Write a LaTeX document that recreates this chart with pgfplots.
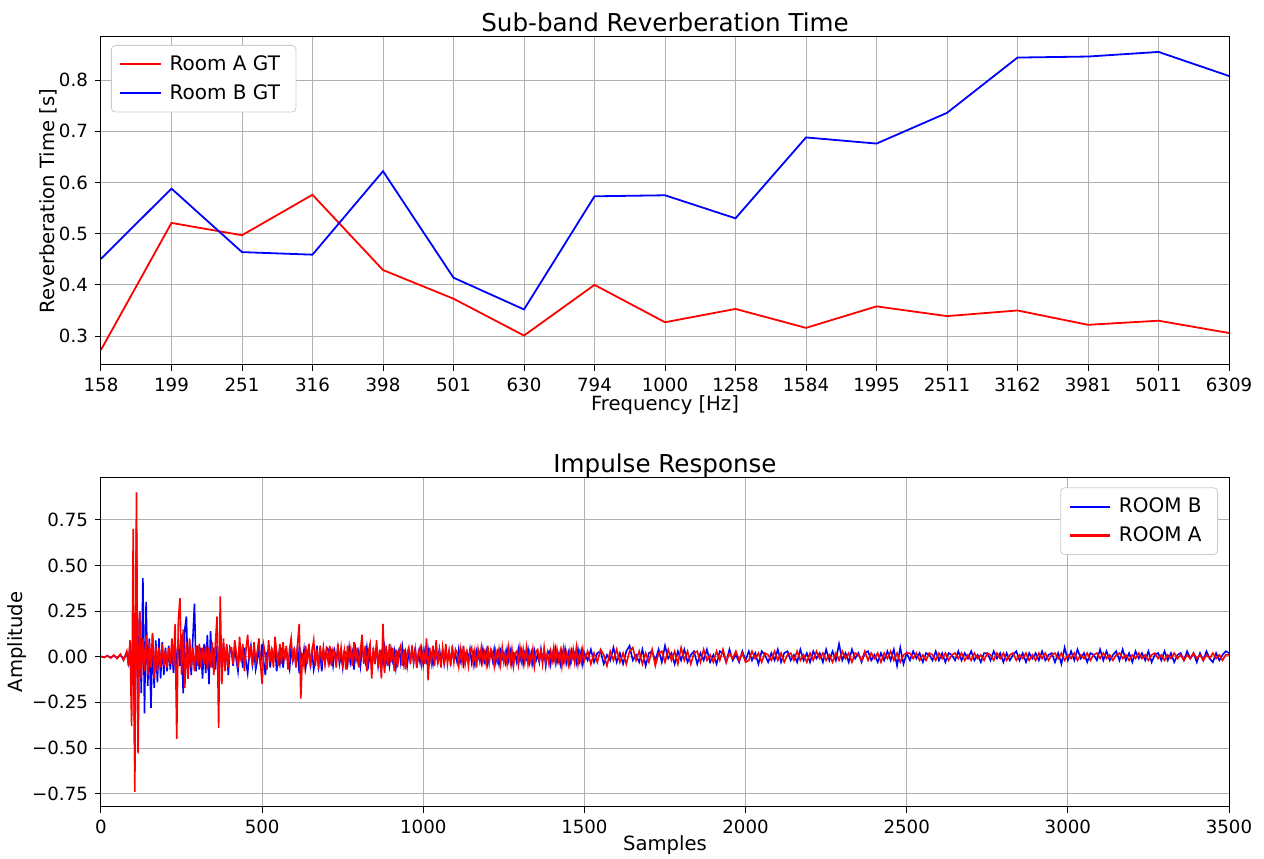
\documentclass[border=0pt]{standalone}
\usepackage{fontspec}
\setmainfont{DejaVu Sans}
\usepackage{pgfplots}
\pgfplotsset{compat=1.18}
\usepackage{pgfplotstable}
\definecolor{gridgray}{RGB}{176,176,176}
\definecolor{legframe}{RGB}{204,204,204}
\definecolor{mplred}{RGB}{255,0,0}
\definecolor{mplblue}{RGB}{0,0,255}

\pgfplotstableread{
idx ra rb
0 0.273 0.451
1 0.521 0.588
2 0.497 0.464
3 0.576 0.459
4 0.429 0.622
5 0.373 0.414
6 0.301 0.352
7 0.400 0.573
8 0.327 0.575
9 0.353 0.530
10 0.316 0.688
11 0.358 0.676
12 0.339 0.736
13 0.350 0.844
14 0.322 0.846
15 0.330 0.855
16 0.306 0.808
}\rtdata

\pgfplotstableread{
x b a
0 0.002 0.001
10 -0.003 -0.004
20 0.004 0.006
30 -0.005 -0.007
40 0.006 0.009
50 -0.008 -0.010
60 0.010 0.014
70 -0.014 -0.02
80 0.02 0.03
85 -0.03 -0.05
90 0.06 0.09
95 -0.08 -0.38
100 0.15 0.70
105 -0.60 -0.74
110 0.70 0.90
115 -0.35 -0.53
120 0.25 0.25
125 -0.20 -0.12
130 0.43 0.10
135 -0.31 -0.08
140 0.30 0.12
145 -0.16 -0.10
150 0.10 0.08
155 -0.28 -0.06
160 0.12 0.13
165 -0.17 -0.12
170 0.09 0.06
175 -0.14 -0.08
180 0.10 0.05
185 -0.12 -0.06
190 0.08 0.07
195 -0.10 -0.05
200 0.05 0.04
205 -0.08 -0.06
210 0.06 0.05
215 -0.07 -0.04
220 0.04 0.10
225 -0.09 -0.05
230 0.06 0.18
235 -0.06 -0.45
240 0.10 0.20
245 -0.05 0.32
250 0.12 -0.10
255 -0.20 0.15
260 0.15 -0.17
265 0.22 0.08
270 -0.12 -0.12
275 0.08 0.10
280 -0.10 -0.06
285 0.10 0.05
290 0.29 -0.08
295 -0.08 0.06
300 0.06 -0.05
305 -0.07 0.07
310 0.05 -0.06
315 -0.12 0.05
320 0.07 -0.04
325 -0.09 0.06
330 0.12 -0.07
335 -0.15 0.05
340 0.14 -0.06
345 -0.06 0.08
350 0.05 -0.10
355 -0.07 0.07
360 0.06 0.22
365 -0.08 -0.39
370 0.10 0.33
375 -0.09 -0.15
380 0.07 0.10
385 -0.05 -0.08
390 0.06 0.07
395 -0.10 -0.06
400 0.05 0.05
405 0.03 0.05
410 -0.05 -0.04
415 0.06 0.09
420 -0.02 0.02
425 -0.08 -0.06
430 0.04 0.11
435 0.02 -0.03
440 -0.06 0.07
445 0.05 -0.08
450 -0.03 0.04
455 -0.09 0.12
460 0.01 -0.02
465 0.06 0.06
470 -0.04 -0.05
475 0.03 0.08
480 -0.07 -0.03
485 -0.02 0.03
490 0.05 0.10
495 -0.05 -0.04
500 0.07 -0.15
505 -0.03 0.06
510 -0.10 0.01
515 0.02 -0.07
520 0.04 0.09
525 -0.06 -0.03
530 0.03 0.05
535 -0.02 -0.06
540 0.06 0.11
545 -0.08 0.02
550 0.01 -0.05
555 -0.04 0.07
560 0.05 -0.04
565 -0.06 0.08
570 0.02 -0.02
575 0.04 0.06
580 -0.03 -0.07
585 -0.07 0.04
590 0.05 0.10
595 -0.02 -0.03
600 0.03 0.05
605 -0.05 -0.06
610 0.06 0.07
615 -0.09 0.18
620 0.02 -0.23
625 -0.03 0.02
630 0.04 -0.05
635 -0.06 0.06
640 0.01 -0.04
645 0.05 0.07
650 -0.04 -0.06
655 0.03 0.03
660 -0.07 0.09
665 -0.02 -0.05
670 0.06 0.04
675 -0.05 -0.07
680 0.02 0.06
685 -0.08 -0.02
690 0.04 0.05
695 -0.03 -0.04
700 0.05 0.03
705 0.04 -0.03
710 -0.03 0.06
715 0.02 -0.05
720 -0.05 0.04
725 0.03 0.02
730 -0.02 -0.06
735 0.05 0.07
740 -0.04 -0.03
745 0.01 0.05
750 -0.06 -0.04
755 0.03 0.03
760 0.02 -0.07
765 -0.04 0.06
770 0.05 -0.02
775 -0.03 0.04
780 0.02 -0.05
785 -0.07 0.08
790 0.04 -0.03
795 -0.02 0.05
800 0.03 -0.06
805 -0.05 0.03
810 0.04 0.12
815 0.01 -0.04
820 -0.03 0.06
825 0.05 -0.08
830 -0.04 0.03
835 0.02 0.07
840 -0.06 -0.12
845 0.03 0.05
850 -0.02 -0.04
855 0.04 0.09
860 -0.05 -0.06
865 0.02 0.04
870 0.03 -0.12
875 -0.04 0.18
880 0.05 -0.09
885 -0.03 0.06
890 0.01 -0.05
895 -0.05 0.07
900 0.04 -0.03
905 -0.02 0.05
910 0.03 -0.08
915 -0.06 0.04
920 0.02 -0.06
925 0.04 0.03
930 -0.03 0.06
935 0.05 -0.05
940 -0.04 0.04
945 0.02 -0.07
950 -0.05 0.02
955 0.03 0.05
960 -0.02 -0.04
965 0.04 0.06
970 -0.03 -0.03
975 0.05 0.04
980 -0.06 -0.06
985 0.02 0.02
990 -0.03 0.05
995 0.04 -0.04
1000 -0.04 0.03
1005 0.03 -0.04
1010 -0.02 0.10
1015 0.04 -0.13
1020 -0.03 0.05
1025 0.01 -0.03
1030 -0.04 0.06
1035 0.03 -0.05
1040 0.02 0.09
1045 -0.03 -0.04
1050 0.04 0.03
1055 -0.02 -0.06
1060 0.03 0.05
1065 -0.04 -0.02
1070 0.02 0.07
1075 -0.01 -0.04
1080 0.03 0.03
1085 -0.03 -0.05
1090 0.04 0.06
1095 -0.02 -0.03
1100 0.01 0.04
1105 -0.03 0.02
1110 0.04 -0.05
1115 -0.02 0.04
1120 0.03 -0.03
1125 -0.04 0.06
1130 0.01 -0.04
1135 0.03 0.02
1140 -0.02 -0.05
1145 0.04 0.03
1150 -0.03 0.05
1155 0.02 -0.04
1160 -0.04 0.03
1165 0.03 -0.06
1170 -0.01 0.04
1175 0.02 -0.02
1180 -0.03 0.05
1185 0.04 -0.03
1190 -0.02 0.02
1195 0.03 -0.04
1200 -0.04 0.06
1205 0.01 -0.03
1210 0.03 0.04
1215 -0.02 0.02
1220 0.04 -0.05
1225 -0.03 0.03
1230 0.02 -0.02
1235 -0.04 0.04
1240 0.03 -0.04
1245 -0.01 0.05
1250 0.02 -0.03
1255 -0.03 0.02
1260 0.04 -0.04
1265 -0.02 0.05
1270 0.03 -0.03
1275 -0.04 0.04
1280 0.02 -0.05
1285 0.01 0.02
1290 -0.03 0.03
1295 0.04 -0.04
1300 -0.02 0.05
1305 0.03 -0.02
1310 -0.04 0.04
1315 0.02 -0.03
1320 -0.01 0.05
1325 0.04 -0.04
1330 -0.03 0.02
1335 0.02 -0.03
1340 -0.04 0.04
1345 0.03 -0.05
1350 -0.02 0.03
1355 0.01 0.04
1360 -0.03 -0.02
1365 0.04 0.03
1370 -0.02 -0.04
1375 0.03 0.05
1380 -0.05 -0.03
1385 0.02 0.02
1390 0.03 -0.04
1395 -0.04 0.03
1400 0.02 -0.02
1405 -0.02 0.05
1410 0.04 -0.03
1415 -0.03 0.04
1420 0.01 -0.02
1425 -0.04 0.03
1430 0.03 -0.05
1435 -0.02 0.04
1440 0.04 -0.03
1445 -0.03 0.02
1450 0.02 -0.04
1455 -0.04 0.03
1460 0.03 -0.02
1465 -0.01 0.04
1470 0.02 -0.03
1475 -0.03 0.05
1480 0.04 -0.04
1485 -0.02 0.02
1490 0.03 -0.03
1495 -0.04 0.04
1500 0.02 -0.02
1510 -0.02 0.03
1520 0.04 -0.04
1530 -0.03 0.02
1540 0.02 -0.03
1550 0.03 0.04
1560 -0.04 0.01
1570 0.01 -0.05
1580 -0.02 0.03
1590 0.05 -0.02
1600 -0.03 0.04
1610 0.02 -0.03
1620 -0.04 0.02
1630 0.03 -0.04
1640 0.06 0.03
1650 -0.02 0.05
1660 0.01 -0.02
1670 -0.03 0.03
1680 0.04 -0.04
1690 -0.05 0.02
1700 0.02 -0.03
1710 0.03 0.04
1720 -0.02 -0.05
1730 0.04 0.02
1740 -0.03 0.03
1750 0.06 -0.03
1760 -0.01 0.04
1770 0.02 -0.02
1780 -0.04 0.03
1790 0.03 -0.04
1800 -0.02 0.05
1810 0.04 -0.02
1820 -0.03 0.03
1830 0.01 -0.04
1840 0.03 0.02
1850 -0.04 0.03
1860 0.02 -0.03
1870 -0.02 0.04
1880 0.04 -0.02
1890 -0.03 0.01
1900 0.01 -0.03
1910 -0.04 0.03
1920 0.03 -0.02
1930 0.02 0.04
1940 -0.03 -0.03
1950 0.04 0.02
1960 -0.02 -0.01
1970 0.01 0.03
1980 -0.03 -0.02
1990 0.03 0.02
2000 -0.02 -0.03
2010 0.03 -0.02
2020 -0.02 0.03
2030 0.02 -0.01
2040 -0.04 0.02
2050 0.03 -0.03
2060 0.01 0.02
2070 -0.03 0.01
2080 0.02 -0.02
2090 -0.02 0.03
2100 0.04 -0.02
2110 -0.03 0.02
2120 0.02 -0.03
2130 0.03 0.01
2140 -0.02 0.02
2150 0.01 -0.02
2160 -0.03 0.03
2170 0.04 -0.02
2180 -0.02 0.01
2190 0.02 -0.03
2200 -0.03 0.02
2210 0.03 -0.02
2220 -0.01 0.03
2230 0.02 -0.01
2240 -0.03 0.02
2250 0.04 -0.02
2260 -0.02 0.01
2270 0.03 -0.03
2280 -0.02 0.02
2290 0.07 -0.02
2300 -0.02 0.03
2310 0.02 -0.01
2320 -0.03 0.02
2330 0.04 -0.03
2340 -0.01 0.02
2350 0.02 0.01
2360 -0.03 -0.02
2370 0.02 0.03
2380 0.03 -0.02
2390 -0.02 0.02
2400 0.01 -0.01
2410 -0.03 0.02
2420 0.02 -0.03
2430 -0.02 0.02
2440 0.03 -0.01
2450 -0.02 0.03
2460 0.04 -0.02
2470 -0.05 0.02
2480 0.05 -0.03
2490 -0.04 0.01
2500 0.02 0.02
2510 -0.02 0.02
2520 0.03 -0.01
2530 -0.01 0.02
2540 0.02 -0.02
2550 -0.03 0.01
2560 0.02 -0.02
2570 0.01 0.02
2580 -0.02 0.01
2590 0.03 -0.02
2600 -0.02 0.02
2610 0.02 -0.01
2620 -0.03 0.02
2630 0.02 -0.02
2640 0.01 0.01
2650 -0.02 0.02
2660 0.03 -0.01
2670 -0.02 0.02
2680 0.02 -0.02
2690 -0.01 0.01
2700 0.03 -0.02
2710 -0.02 0.02
2720 0.01 -0.01
2730 -0.03 0.01
2740 0.02 -0.02
2750 0.02 0.02
2760 -0.02 0.01
2770 0.03 -0.02
2780 -0.01 0.02
2790 0.02 -0.01
2800 -0.03 0.02
2810 0.02 -0.02
2820 -0.02 0.01
2830 0.01 0.02
2840 0.03 -0.02
2850 -0.02 0.01
2860 0.02 -0.01
2870 -0.03 0.02
2880 0.02 -0.02
2890 -0.01 0.01
2900 0.02 -0.02
2910 -0.02 0.02
2920 0.03 -0.01
2930 -0.02 0.02
2940 0.01 -0.02
2950 0.02 0.01
2960 -0.03 0.02
2970 0.02 -0.01
2980 -0.04 0.02
2990 0.05 -0.02
3000 -0.02 0.01
3010 0.03 -0.01
3020 -0.02 0.02
3030 0.04 -0.02
3040 -0.01 0.01
3050 0.02 -0.01
3060 -0.03 0.02
3070 0.02 -0.02
3080 0.01 0.01
3090 -0.02 0.02
3100 0.04 -0.01
3110 -0.02 0.02
3120 0.03 -0.01
3130 -0.02 0.01
3140 0.01 -0.02
3150 0.03 0.01
3160 -0.02 0.02
3170 0.04 -0.01
3180 -0.02 0.01
3190 0.02 -0.02
3200 -0.03 0.01
3210 0.03 -0.01
3220 -0.01 0.02
3230 0.02 -0.01
3240 -0.02 0.01
3250 0.03 -0.02
3260 -0.03 0.01
3270 0.01 0.02
3280 0.02 -0.01
3290 -0.02 0.01
3300 0.03 -0.02
3310 -0.02 0.01
3320 0.02 -0.01
3330 -0.03 0.02
3340 0.01 -0.01
3350 0.02 0.01
3360 -0.02 -0.02
3370 0.03 0.01
3380 -0.01 -0.01
3390 0.02 0.02
3400 -0.03 -0.01
3410 0.02 0.01
3420 -0.02 -0.02
3430 0.03 0.01
3440 -0.01 -0.01
3450 -0.03 0.02
3460 0.02 -0.01
3470 -0.02 0.01
3480 0.01 -0.02
3490 0.03 0.01
3500 0.02 0.01
}\irdata

\pgfplotsset{
  mystyle/.style={
    scale only axis, width=564pt,
    axis line style={black, line width=0.5pt},
    grid=major, major grid style={gridgray, line width=0.5pt},
    tick align=outside, major tick length=3pt,
    tick style={black, line width=0.5pt},
    xtick pos=left, ytick pos=left,
    tick label style={font=\fontsize{9.1pt}{11pt}\selectfont},
    label style={font=\fontsize{9.8pt}{12pt}\selectfont},
    title style={font=\fontsize{12.3pt}{14pt}\selectfont, at={(0.5,1)}, anchor=base, yshift=-3.5pt},
    legend style={font=\fontsize{10pt}{12pt}\selectfont, draw=legframe, rounded corners=2pt,
      fill=white, inner xsep=4pt, inner ysep=3pt, row sep=1.5pt,
      nodes={inner xsep=4pt}},
    legend cell align=left,
    legend image code/.code={\draw[#1] (0pt,0pt) -- (20pt,0pt);},
  }
}

\begin{document}
\begin{tikzpicture}
\useasboundingbox (0,0) rectangle (632pt,429pt);
\begin{axis}[mystyle,
  at={(50.5pt,246.5pt)}, anchor=south west, height=164pt,
  title={Sub-band Reverberation Time},
  xmin=0, xmax=16, ymin=0.2435, ymax=0.8842,
  xtick={0,1,...,16},
  xticklabels={158,199,251,316,398,501,630,794,1000,1258,1584,1995,2511,3162,3981,5011,6309},
  ytick={0.3,0.4,0.5,0.6,0.7,0.8},
  yticklabels={0.3,0.4,0.5,0.6,0.7,0.8},
  xlabel={Frequency [Hz]}, ylabel={Reverberation Time [s]},
  xlabel style={at={(axis description cs:0.5,-0.122)}, anchor=center},
  ylabel style={at={(axis description cs:-0.047,0.5)}, anchor=center},
  legend style={at={(0,1)}, anchor=north west, xshift=5pt, yshift=-4pt},
]
\addlegendimage{draw=mplred, line width=1.1pt}
\addlegendentry{Room A GT}
\addlegendimage{draw=mplblue, line width=1.1pt}
\addlegendentry{Room B GT}
\addplot[forget plot, draw=mplred, line width=0.9pt] table[x=idx, y=ra]{\rtdata};
\addplot[forget plot, draw=mplblue, line width=0.9pt] table[x=idx, y=rb]{\rtdata};
\end{axis}

\begin{axis}[mystyle,
  at={(50.5pt,25.6pt)}, anchor=south west, height=164.7pt,
  title={Impulse Response},
  xmin=0, xmax=3500, ymin=-0.822, ymax=0.982,
  xtick={0,500,1000,1500,2000,2500,3000,3500},
  xticklabels={0,500,1000,1500,2000,2500,3000,3500},
  ytick={-0.75,-0.5,-0.25,0,0.25,0.5,0.75},
  yticklabels={−0.75,−0.50,−0.25,0.00,0.25,0.50,0.75},
  xlabel={Samples}, ylabel={Amplitude},
  xlabel style={at={(axis description cs:0.5,-0.1155)}, anchor=center},
  ylabel style={at={(axis description cs:-0.0745,0.5)}, anchor=center},
  legend style={at={(1,1)}, anchor=north east, xshift=-5.5pt, yshift=-5pt},
]
\addlegendimage{draw=mplblue, line width=1.1pt}
\addlegendentry{ROOM B}
\addlegendimage{draw=mplred, line width=1.1pt}
\addlegendentry{ROOM A}
\addplot[forget plot, draw=mplblue, line width=0.8pt] table[x=x, y=b]{\irdata};
\addplot[forget plot, draw=mplred, line width=0.8pt] table[x=x, y=a]{\irdata};
\end{axis}
\end{tikzpicture}
\end{document}
